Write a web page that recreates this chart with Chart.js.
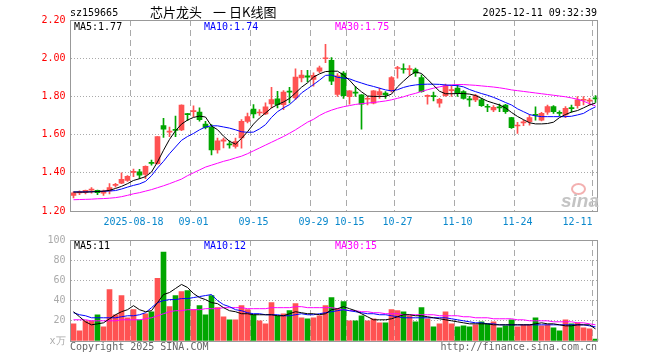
<!DOCTYPE html>
<html>
<head>
<meta charset="utf-8">
<script src="https://cdn.jsdelivr.net/npm/chart.js@4.4.1/dist/chart.umd.min.js"></script>
<style>
html, body { margin: 0; padding: 0; background: #fff; }
#wrap { position: relative; width: 660px; height: 360px; overflow: hidden; font-family: "DejaVu Sans Mono", monospace; font-size: 10px; }
canvas { position: absolute; left: 0; top: 0; }
.t { position: absolute; white-space: pre; line-height: 12px; }
.cn { font-family: "Noto Sans CJK SC", sans-serif; font-size: 13px; line-height: 14px; color: #000; }
</style>
</head>
<body>
<div id="wrap">
  <canvas id="kChart" width="660" height="360"></canvas>
  <canvas id="volChart" width="660" height="360"></canvas>

  <div class="t" style="left:70px;top:7px;color:#000">sz159665</div>
  <div class="t cn" style="left:150px;top:5px">芯片龙头</div>
  <div class="t cn" style="left:213px;top:5px">一</div>
  <div class="t cn" style="left:229px;top:5px">日K线图</div>
  <div class="t" style="right:63px;top:7px;color:#000">2025-12-11 09:32:39</div>

  <div class="t" style="left:74px;top:21px;color:#000">MA5:1.77</div>
  <div class="t" style="left:204px;top:21px;color:#0000ff">MA10:1.74</div>
  <div class="t" style="left:335px;top:21px;color:#ff00ff">MA30:1.75</div>

  <div class="t" style="left:74px;top:240px;color:#000">MA5:11</div>
  <div class="t" style="left:204px;top:240px;color:#0000ff">MA10:12</div>
  <div class="t" style="left:335px;top:240px;color:#ff00ff">MA30:15</div>

  <div style="position:absolute;left:571px;top:183px;width:11px;height:8px;border:2px solid #f3b0b0;border-radius:50%"></div>
  <div class="t" style="left:561px;top:191px;font:italic bold 19px 'Liberation Sans',sans-serif;line-height:20px;color:#c4c4c4">sina</div>

  <div class="t" style="left:70px;top:341px;color:#666">Copyright 2025 SINA.COM</div>
  <div class="t" style="right:63px;top:341px;color:#666">http://finance.sina.com.cn</div>
</div>

<script>
// trading days 2025-08-04 .. 2025-12-11
const dates = [
  '08-04','08-05','08-06','08-07','08-08','08-11','08-12','08-13','08-14','08-15',
  '08-18','08-19','08-20','08-21','08-22','08-25','08-26','08-27','08-28','08-29',
  '09-01','09-02','09-03','09-04','09-05','09-08','09-09','09-10','09-11','09-12',
  '09-15','09-16','09-17','09-18','09-19','09-22','09-23','09-24','09-25','09-26',
  '09-29','09-30','10-09','10-10','10-13','10-14','10-15','10-16','10-17','10-20',
  '10-21','10-22','10-23','10-24','10-27','10-28','10-29','10-30','10-31','11-03',
  '11-04','11-05','11-06','11-07','11-10','11-11','11-12','11-13','11-14','11-17',
  '11-18','11-19','11-20','11-21','11-24','11-25','11-26','11-27','11-28','12-01',
  '12-02','12-03','12-04','12-05','12-08','12-09','12-10','12-11'
];

const opens = [
  1.281,1.295,1.297,1.309,1.308,1.294,1.305,1.334,1.346,1.360,
  1.402,1.405,1.392,1.452,1.448,1.647,1.613,1.625,1.624,1.708,
  1.720,1.718,1.655,1.638,1.520,1.566,1.551,1.538,1.582,1.669,
  1.734,1.713,1.708,1.761,1.787,1.757,1.827,1.792,1.897,1.908,
  1.889,1.932,1.997,1.989,1.811,1.922,1.799,1.822,1.808,1.785,
  1.764,1.808,1.817,1.829,1.946,1.945,1.940,1.940,1.899,1.800,
  1.800,1.764,1.804,1.830,1.843,1.825,1.785,1.782,1.782,1.745,
  1.729,1.745,1.755,1.689,1.645,1.661,1.668,1.703,1.676,1.717,
  1.747,1.713,1.703,1.738,1.752,1.780,1.775,1.790
];
const closes = [
  1.295,1.298,1.308,1.312,1.296,1.304,1.322,1.338,1.366,1.382,
  1.405,1.387,1.434,1.449,1.589,1.629,1.615,1.622,1.755,1.705,
  1.724,1.678,1.638,1.520,1.568,1.572,1.546,1.564,1.669,1.694,
  1.708,1.718,1.745,1.783,1.757,1.822,1.822,1.901,1.911,1.901,
  1.910,1.950,2.000,1.880,1.908,1.804,1.829,1.817,1.759,1.790,
  1.829,1.825,1.808,1.899,1.950,1.941,1.943,1.922,1.825,1.804,
  1.799,1.785,1.857,1.834,1.817,1.790,1.782,1.804,1.752,1.743,
  1.743,1.740,1.720,1.636,1.647,1.664,1.689,1.701,1.711,1.747,
  1.720,1.711,1.738,1.736,1.782,1.782,1.778,1.787
];
const highs = [
  1.300,1.305,1.310,1.322,1.310,1.310,1.343,1.345,1.400,1.385,
  1.420,1.418,1.436,1.466,1.590,1.685,1.640,1.697,1.756,1.712,
  1.750,1.740,1.670,1.652,1.582,1.582,1.568,1.582,1.678,1.713,
  1.757,1.731,1.766,1.848,1.827,1.831,1.848,1.945,1.936,1.936,
  1.924,1.959,2.073,2.003,1.920,1.930,1.830,1.852,1.810,1.800,
  1.830,1.843,1.825,1.904,1.957,1.970,1.962,1.948,1.913,1.808,
  1.822,1.790,1.864,1.857,1.860,1.830,1.800,1.811,1.790,1.759,
  1.752,1.760,1.759,1.690,1.664,1.676,1.703,1.746,1.717,1.755,
  1.752,1.724,1.747,1.755,1.799,1.799,1.790,1.804
];
const lows = [
  1.268,1.285,1.290,1.294,1.285,1.282,1.290,1.325,1.343,1.355,
  1.380,1.369,1.369,1.440,1.445,1.585,1.589,1.589,1.620,1.673,
  1.694,1.670,1.630,1.494,1.503,1.530,1.529,1.529,1.529,1.661,
  1.687,1.701,1.704,1.740,1.740,1.731,1.766,1.783,1.876,1.876,
  1.854,1.924,1.976,1.862,1.800,1.790,1.759,1.800,1.629,1.755,
  1.760,1.790,1.790,1.822,1.896,1.922,1.910,1.904,1.822,1.759,
  1.776,1.743,1.800,1.800,1.800,1.785,1.747,1.773,1.747,1.720,
  1.720,1.720,1.711,1.632,1.606,1.647,1.650,1.676,1.671,1.706,
  1.711,1.699,1.689,1.717,1.738,1.755,1.755,1.769
];

const ma5 = [
  1.299,1.299,1.299,1.300,1.302,1.304,1.308,1.318,1.329,1.343,
  1.360,1.369,1.380,1.404,1.457,1.518,1.575,1.620,1.655,1.676,
  1.690,1.697,1.692,1.645,1.626,1.592,1.565,1.550,1.580,1.615,
  1.655,1.687,1.713,1.740,1.757,1.771,1.789,1.818,1.848,1.871,
  1.901,1.918,1.930,1.932,1.932,1.912,1.885,1.850,1.824,1.802,
  1.800,1.800,1.800,1.812,1.850,1.880,1.908,1.928,1.920,1.890,
  1.858,1.827,1.814,1.814,1.815,1.815,1.812,1.805,1.790,1.775,
  1.765,1.755,1.740,1.716,1.695,1.678,1.662,1.656,1.656,1.658,
  1.665,1.689,1.705,1.718,1.726,1.740,1.755,1.765
];
const ma10 = [
  1.300,1.300,1.300,1.301,1.302,1.303,1.305,1.307,1.315,1.325,
  1.334,1.342,1.355,1.385,1.425,1.460,1.500,1.535,1.570,1.590,
  1.606,1.625,1.640,1.646,1.646,1.640,1.634,1.625,1.615,1.612,
  1.613,1.630,1.652,1.690,1.720,1.740,1.757,1.785,1.818,1.840,
  1.862,1.885,1.910,1.912,1.900,1.896,1.892,1.880,1.870,1.860,
  1.852,1.843,1.834,1.829,1.835,1.847,1.855,1.860,1.863,1.864,
  1.864,1.863,1.860,1.858,1.856,1.850,1.836,1.825,1.815,1.806,
  1.795,1.782,1.768,1.755,1.735,1.720,1.705,1.698,1.694,1.694,
  1.694,1.694,1.694,1.696,1.703,1.711,1.730,1.745
];
const ma30 = [
  1.259,1.260,1.261,1.262,1.264,1.265,1.267,1.270,1.275,1.282,
  1.290,1.296,1.304,1.312,1.322,1.332,1.343,1.355,1.367,1.385,
  1.400,1.415,1.430,1.440,1.450,1.460,1.468,1.478,1.487,1.500,
  1.515,1.530,1.545,1.560,1.575,1.590,1.607,1.625,1.645,1.665,
  1.680,1.700,1.716,1.728,1.738,1.746,1.752,1.758,1.762,1.765,
  1.768,1.772,1.776,1.782,1.790,1.798,1.808,1.816,1.826,1.835,
  1.843,1.850,1.856,1.860,1.862,1.862,1.860,1.858,1.855,1.852,
  1.849,1.845,1.840,1.834,1.830,1.826,1.822,1.818,1.814,1.810,
  1.806,1.802,1.798,1.792,1.785,1.775,1.762,1.750
];

// volume, 万手
const volumes = [
  17,10,20,20,26,14,51,26,45,23,
  31,21,27,29,62,88,34,45,49,50,
  31,35,26,45,33,24,21,21,35,31,
  26,20,17,38,25,27,30,37,23,22,
  23,25,35,43,32,39,20,20,25,20,
  22,18,18,31,30,29,25,19,33,22,
  14,17,29,17,14,15,14,16,19,17,
  19,13,15,21,14,16,16,23,15,16,
  13,10,21,17,18,13,12,2
];
const volMa5 = [
  29,24,19,16,17,18,22,26,29,31,
  35,31,29,30,38,46,48,52,56,53,
  47,43,41,38,37,33,30,29,27,27,
  26,26,26,26,25,25,27,29,28,27,
  27,26,27,31,32,34,32,30,27,24,
  21,21,21,22,24,26,26,25,25,24,
  23,22,21,20,19,18,17,17,17,17,
  16,16,16,16,16,16,16,17,18,17,
  17,16,15,15,16,16,16,12
];
const volMa10 = [
  28,26,25,23,23,23,23,23,24,25,
  25,26,28,33,38,40,41,41,42,42,
  43,44,45,46,40,36,34,31,30,28,
  27,27,26,26,26,25,25,26,27,26,
  26,27,28,29,30,31,30,29,28,27,
  27,26,26,25,24,23,23,23,23,23,
  23,23,23,22,21,20,19,18,18,17,
  17,16,16,16,16,16,16,16,16,16,
  16,16,16,16,16,16,15,14
];
const volMa30 = [
  21,21,21,20,20,20,20,20,21,21,
  21,21,22,23,25,27,29,30,30,31,
  31,31,32,32,32,33,33,33,33,32,
  32,32,32,33,33,33,33,34,34,33,
  33,33,33,33,32,31,30,30,29,29,
  28,28,27,27,27,26,26,26,26,26,
  26,25,25,25,25,24,24,23,23,23,
  22,22,22,22,21,21,20,20,20,20,
  19,19,19,19,18,18,17,16
];

// x-axis: which bars get a dashed line and a date label
const tickIdx = [10, 20, 30, 40, 46, 54, 64, 74, 87];
const tickText = ['2025-08-18', '09-01', '09-15', '09-29', '10-15', '10-27', '11-10', '11-24', '12-11      '];

const priceTicks = [1.2, 2.2, 0.2];   // min, max, step
const volTicks = [0, 100, 20];

const RED = '#ff5252';
const GREEN = '#00a600';
const NONE = 'rgba(0,0,0,0)';
const monoFont = { family: 'DejaVu Sans Mono', size: 10 };

let isUp = i => closes[i] >= opens[i];
let barColor = ctx => isUp(ctx.dataIndex) ? RED : GREEN;

// grey box round the plot area
const frame = {
  id: 'frame',
  afterDatasetsDraw(chart) {
    const { ctx, chartArea } = chart;
    const l = Math.floor(chartArea.left), t = Math.floor(chartArea.top);
    const r = Math.floor(chartArea.right), b = Math.floor(chartArea.bottom);
    ctx.save();
    ctx.strokeStyle = '#999';
    ctx.lineWidth = 1;
    ctx.strokeRect(l + 0.5, t + 0.5, r - l - 1, b - t);
    ctx.restore();
  }
};

let maLine = (data, color) => ({
  type: 'line', data: data, borderColor: color, borderWidth: 1,
  pointRadius: 0, tension: 0, order: 0
});

let xScale = (showLabels) => ({
  offset: true,
  grid: {
    offset: true, drawTicks: false,
    color: ctx => tickIdx.includes(ctx.index) ? '#aaa' : NONE
  },
  border: { display: false, dash: [6, 4] },
  ticks: {
    display: showLabels, autoSkip: false, maxRotation: 0, minRotation: 0,
    padding: 5, color: '#0a88cc', font: monoFont,
    callback: (v, i) => {
      let k = tickIdx.indexOf(i);
      return k < 0 ? '' : tickText[k];
    }
  },
  afterFit: s => { s.height = showLabels ? 24 : 0; }
});

let yScale = (range, color, fmt) => ({
  min: range[0], max: range[1],
  grid: {
    drawTicks: false,
    color: ctx => {
      let v = ctx.tick.value;
      return (v > range[0] + 1e-6 && v < range[1] - 1e-6) ? '#aaa' : NONE;
    }
  },
  border: { display: false, dash: [1, 2] },
  ticks: { stepSize: range[2], padding: 5, color: color, font: monoFont, callback: fmt },
  afterFit: s => { s.width = 70.5; }
});

new Chart(document.getElementById('kChart'), {
  type: 'bar',
  data: {
    labels: dates,
    datasets: [
      maLine(ma5, '#000000'),
      maLine(ma10, '#0000ff'),
      maLine(ma30, '#ff00ff'),
      {
        data: dates.map((d, i) => [opens[i], closes[i]]),
        backgroundColor: barColor, barThickness: 5, minBarLength: 1,
        grouped: false, order: 1
      },
      {
        data: dates.map((d, i) => [lows[i], highs[i]]),
        backgroundColor: barColor, barThickness: 1,
        grouped: false, order: 2
      }
    ]
  },
  options: {
    responsive: false, animation: false, events: [],
    layout: { padding: { left: 0, top: 20, right: 61.5, bottom: 125 } },
    plugins: { legend: { display: false }, tooltip: { enabled: false } },
    scales: {
      x: xScale(true),
      y: yScale(priceTicks, '#ff0000', v => Number(v).toFixed(2))
    }
  },
  plugins: [frame]
});

new Chart(document.getElementById('volChart'), {
  type: 'bar',
  data: {
    labels: dates,
    datasets: [
      maLine(volMa5, '#000000'),
      maLine(volMa10, '#0000ff'),
      maLine(volMa30, '#ff00ff'),
      {
        data: volumes, backgroundColor: barColor, barThickness: 5,
        grouped: false, order: 1
      }
    ]
  },
  options: {
    responsive: false, animation: false, events: [],
    layout: { padding: { left: 0, top: 240, right: 61.5, bottom: 19 } },
    plugins: { legend: { display: false }, tooltip: { enabled: false } },
    scales: {
      x: xScale(false),
      y: yScale(volTicks, '#aaa', v => v === 0 ? 'x万' : v)
    }
  },
  plugins: [frame]
});
</script>
</body>
</html>
